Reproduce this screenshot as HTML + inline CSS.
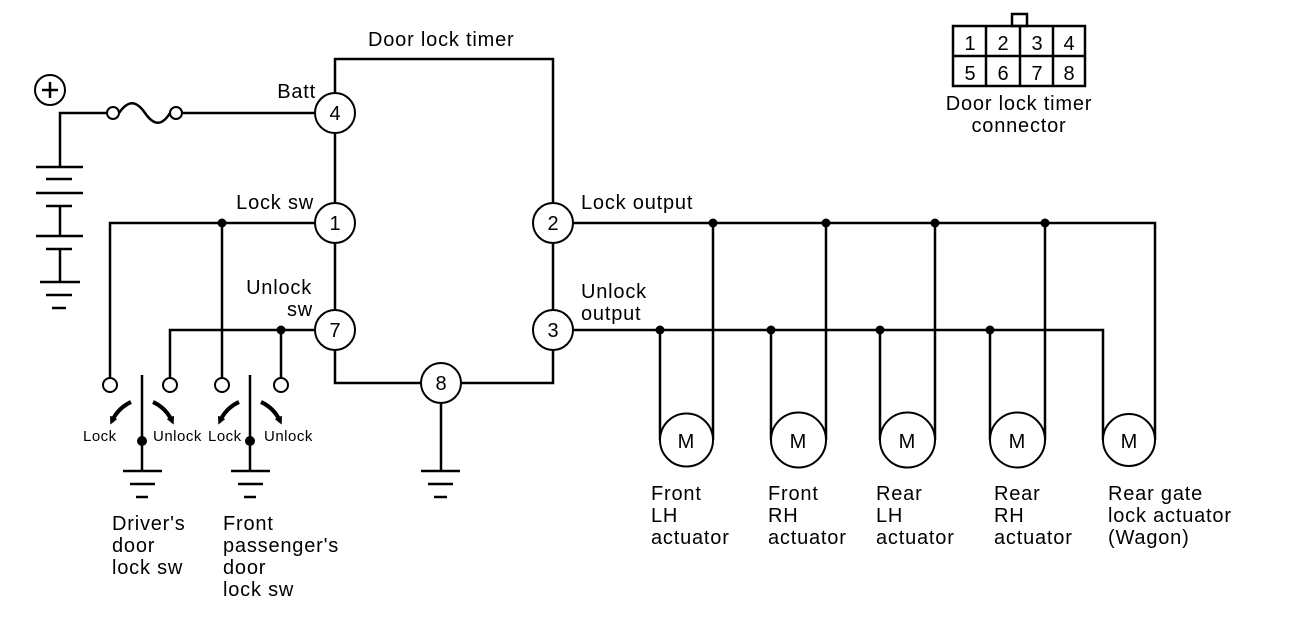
<!DOCTYPE html>
<html><head><meta charset="utf-8"><style>
html,body{margin:0;padding:0;background:#fff;}
svg{display:block;}
text{font-family:"Liberation Sans",sans-serif;fill:#000;}
</style></head><body>
<svg width="1312" height="630" viewBox="0 0 1312 630" xmlns="http://www.w3.org/2000/svg">
<defs>
<marker id="ah" markerWidth="8" markerHeight="8" refX="4" refY="4" orient="auto" markerUnits="userSpaceOnUse"><path d="M0,0 L8,4 L0,8 z" fill="#000"/></marker>
</defs>
<g fill="none" stroke="#000" stroke-width="2.5">
<polyline points="335,93 335,59 553,59 553,203"/>
<line x1="335" y1="133" x2="335" y2="203"/>
<line x1="335" y1="243" x2="335" y2="310"/>
<polyline points="335,350 335,383 421,383"/>
<polyline points="461,383 553,383 553,350"/>
<line x1="553" y1="243" x2="553" y2="310"/>
<line x1="441" y1="403" x2="441" y2="471"/>
<polyline points="60,167 60,113 107,113"/>
<path d="M119,113 C128,100 136,100 145,113 C154,126 162,126 170,113"/>
<line x1="182" y1="113" x2="315" y2="113"/>
<line x1="36" y1="167" x2="83" y2="167"/>
<line x1="46" y1="179" x2="72" y2="179"/>
<line x1="36" y1="193" x2="83" y2="193"/>
<polyline points="46,206 72,206"/>
<line x1="60" y1="206" x2="60" y2="236"/>
<line x1="36" y1="236" x2="83" y2="236"/>
<line x1="46" y1="249" x2="72" y2="249"/>
<line x1="60" y1="249" x2="60" y2="282"/>
<line x1="40" y1="282" x2="80" y2="282"/>
<line x1="46" y1="295" x2="72" y2="295"/>
<line x1="52" y1="308" x2="66" y2="308"/>
<polyline points="315,223 110,223 110,378"/>
<line x1="222" y1="223" x2="222" y2="378"/>
<polyline points="315,330 170,330 170,378"/>
<line x1="281" y1="330" x2="281" y2="378"/>
<line x1="142" y1="375" x2="142" y2="471"/>
<line x1="250" y1="375" x2="250" y2="471"/>
<line x1="123" y1="471" x2="162" y2="471"/><line x1="130" y1="484" x2="155" y2="484"/><line x1="136" y1="497" x2="148" y2="497"/>
<line x1="231" y1="471" x2="270" y2="471"/><line x1="238" y1="484" x2="263" y2="484"/><line x1="244" y1="497" x2="256" y2="497"/>
<line x1="421" y1="471" x2="460" y2="471"/><line x1="428" y1="484" x2="453" y2="484"/><line x1="434" y1="497" x2="447" y2="497"/>
<polyline points="573,223 1155,223 1155,440"/>
<polyline points="573,330 1103,330 1103,440"/>
<line x1="660" y1="330" x2="660" y2="440"/><line x1="713" y1="223" x2="713" y2="440"/>
<line x1="771" y1="330" x2="771" y2="440"/><line x1="826" y1="223" x2="826" y2="440"/>
<line x1="880" y1="330" x2="880" y2="440"/><line x1="935" y1="223" x2="935" y2="440"/>
<line x1="990" y1="330" x2="990" y2="440"/><line x1="1045" y1="223" x2="1045" y2="440"/>
</g>
<g fill="none" stroke="#000" stroke-width="4">
<path d="M131,402 Q118,408 112,421" marker-end="url(#ah)"/>
<path d="M153,402 Q166,408 172,421" marker-end="url(#ah)"/>
<path d="M239,402 Q226,408 220,421" marker-end="url(#ah)"/>
<path d="M261,402 Q274,408 280,421" marker-end="url(#ah)"/>
</g>
<g fill="#fff" stroke="#000" stroke-width="2">
<circle cx="50" cy="90" r="15"/>
<circle cx="113" cy="113" r="6"/><circle cx="176" cy="113" r="6"/>
<circle cx="335" cy="113" r="20"/><circle cx="335" cy="223" r="20"/><circle cx="335" cy="330" r="20"/>
<circle cx="441" cy="383" r="20"/><circle cx="553" cy="223" r="20"/><circle cx="553" cy="330" r="20"/>
<circle cx="110" cy="385" r="7"/><circle cx="170" cy="385" r="7"/><circle cx="222" cy="385" r="7"/><circle cx="281" cy="385" r="7"/>
<circle cx="686.5" cy="440" r="26.5"/><circle cx="798.5" cy="440" r="27.5"/><circle cx="907.5" cy="440" r="27.5"/><circle cx="1017.5" cy="440" r="27.5"/><circle cx="1129" cy="440" r="26"/>
</g>
<g fill="#000">
<circle cx="222" cy="223" r="4.5"/><circle cx="281" cy="330" r="4.5"/>
<circle cx="142" cy="441" r="5"/><circle cx="250" cy="441" r="5"/>
<circle cx="713" cy="223" r="4.5"/><circle cx="826" cy="223" r="4.5"/><circle cx="935" cy="223" r="4.5"/><circle cx="1045" cy="223" r="4.5"/>
<circle cx="660" cy="330" r="4.5"/><circle cx="771" cy="330" r="4.5"/><circle cx="880" cy="330" r="4.5"/><circle cx="990" cy="330" r="4.5"/>
</g>
<g stroke="#000" stroke-width="2.5"><line x1="42" y1="90" x2="58" y2="90"/><line x1="50" y1="82" x2="50" y2="98"/></g>
<g fill="none" stroke="#000" stroke-width="2.5">
<rect x="953" y="26" width="132" height="60"/>
<line x1="953" y1="56" x2="1085" y2="56"/>
<line x1="986" y1="26" x2="986" y2="86"/><line x1="1020" y1="26" x2="1020" y2="86"/><line x1="1053" y1="26" x2="1053" y2="86"/>
<rect x="1012" y="14" width="15" height="12"/>
</g>
<g font-size="20" text-anchor="middle">
<text x="970" y="50">1</text><text x="1003" y="50">2</text><text x="1037" y="50">3</text><text x="1069" y="50">4</text>
<text x="970" y="80">5</text><text x="1003" y="80">6</text><text x="1037" y="80">7</text><text x="1069" y="80">8</text>
<text x="1019" y="110" letter-spacing="0.8">Door lock timer</text><text x="1019" y="132" letter-spacing="0.8">connector</text>
<text x="335" y="120">4</text><text x="335" y="230">1</text><text x="335" y="337">7</text>
<text x="441" y="390">8</text><text x="553" y="230">2</text><text x="553" y="337">3</text>
<text x="686" y="448">M</text><text x="798" y="448">M</text><text x="907" y="448">M</text><text x="1017" y="448">M</text><text x="1129" y="448">M</text>
</g>
<g font-size="20" letter-spacing="0.8">
<text x="368" y="46">Door lock timer</text>
<text x="316" y="98" text-anchor="end">Batt</text>
<text x="314" y="209" text-anchor="end">Lock sw</text>
<text x="312" y="294" text-anchor="end">Unlock</text>
<text x="313" y="316" text-anchor="end">sw</text>
<text x="581" y="209">Lock output</text>
<text x="581" y="298">Unlock</text>
<text x="581" y="320">output</text>
<text x="112" y="530">Driver's</text><text x="112" y="552">door</text><text x="112" y="574">lock sw</text>
<text x="223" y="530">Front</text><text x="223" y="552">passenger's</text><text x="223" y="574">door</text><text x="223" y="596">lock sw</text>
<text x="651" y="500">Front</text><text x="651" y="522">LH</text><text x="651" y="544">actuator</text>
<text x="768" y="500">Front</text><text x="768" y="522">RH</text><text x="768" y="544">actuator</text>
<text x="876" y="500">Rear</text><text x="876" y="522">LH</text><text x="876" y="544">actuator</text>
<text x="994" y="500">Rear</text><text x="994" y="522">RH</text><text x="994" y="544">actuator</text>
<text x="1108" y="500">Rear gate</text><text x="1108" y="522">lock actuator</text><text x="1108" y="544">(Wagon)</text>
</g>
<g font-size="15" letter-spacing="0.5">
<text x="83" y="441">Lock</text><text x="153" y="441">Unlock</text>
<text x="208" y="441">Lock</text><text x="264" y="441">Unlock</text>
</g>
</svg>
</body></html>
